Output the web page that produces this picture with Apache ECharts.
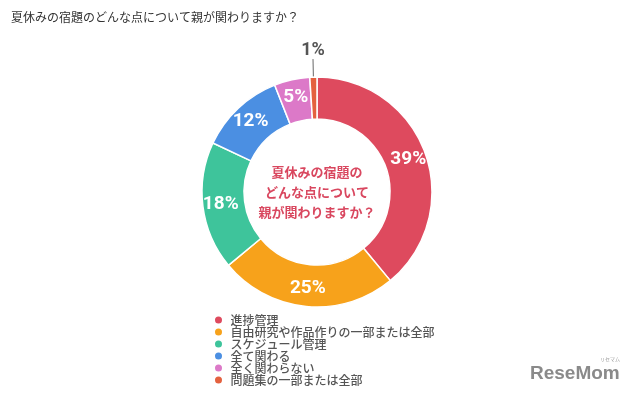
<!DOCTYPE html>
<html>
<head>
<meta charset="utf-8">
<script src="https://cdn.jsdelivr.net/npm/echarts@6/dist/echarts.min.js"></script>
<style>
  html, body { margin: 0; padding: 0; background: #fff; }
  #main { width: 640px; height: 395px; }
</style>
</head>
<body>
<div id="main"></div>
<script>
const categories = ['進捗管理', '自由研究や作品作りの一部または全部', 'スケジュール管理', '全て関わる', '全く関わらない', '問題集の一部または全部']
const values = [39, 25, 18, 12, 5, 1]
const colors = ['#de4a5e', '#f7a21b', '#3ec49b', '#4b8fe2', '#dc79c8', '#e4613f']

const cjk = "'Noto Sans CJK JP', sans-serif"
const narrow = "Roboto, sans-serif"

// 1% だけ外側にラベル
const pieData = categories.map((name, i) => {
    const item = { name, value: values[i], itemStyle: { color: colors[i] } }
    if (values[i] < 3) {
        item.label = { position: 'outside', color: '#555', fontSize: 18 }
        item.labelLine = { show: true, length: 12, length2: 0, lineStyle: { color: '#666', width: 1 } }
    }
    return item
})

const chart = echarts.init(document.getElementById('main'))
chart.setOption({
    animation: false,
    title: {
        text: '夏休みの宿題のどんな点について親が関わりますか？',
        left: 6,
        top: 6,
        textStyle: { fontFamily: cjk, fontSize: 12, fontWeight: 'normal', color: '#333' },
    },
    legend: {
        orient: 'vertical',
        left: 208,
        top: 309,
        height: 90,
        itemWidth: 14,
        itemHeight: 9,
        itemGap: 0,
        icon: 'circle',
        selectedMode: false,
        textStyle: { fontFamily: cjk, fontSize: 12, lineHeight: 11.6, color: '#555', fontWeight: 500 },
        data: categories,
    },
    graphic: [
        {
            type: 'text',
            x: 317,
            y: 192,
            style: {
                text: '夏休みの宿題の\nどんな点について\n親が関わりますか？',
                fontFamily: cjk,
                fontSize: 13,
                fontWeight: 'bold',
                lineHeight: 20,
                fill: '#d9475f',
                align: 'center',
                verticalAlign: 'middle',
            },
        },
        {
            type: 'text',
            x: 530,
            y: 364,
            style: {
                text: 'ReseMom',
                fontFamily: "'Liberation Sans', Arial, sans-serif",
                fontSize: 19,
                fontWeight: 'bold',
                fill: '#8a8a8a',
            },
        },
        {
            type: 'text',
            x: 600,
            y: 357,
            style: { text: 'リセマム', fontFamily: cjk, fontSize: 5, fill: '#999' },
        },
    ],
    series: [
        {
            type: 'pie',
            center: [317, 192],
            radius: [73, 115],
            startAngle: 90,
            clockwise: true,
            avoidLabelOverlap: false,
            itemStyle: { borderColor: '#fff', borderWidth: 1.5 },
            label: {
                show: true,
                position: 'inside',
                formatter: '{c}%',
                color: '#fff',
                fontFamily: narrow,
                fontWeight: 'bold',
                fontSize: 19,
            },
            labelLine: { show: false },
            labelLayout(params) {
                // 1% のラベルを線の真上に置く
                const pts = params.labelLinePoints
                if (!pts) return {}
                const end = pts[pts.length - 1]
                return { x: end[0], y: end[1] - 6, align: 'center', verticalAlign: 'bottom' }
            },
            emphasis: { disabled: true },
            data: pieData,
        },
    ],
})
</script>
</body>
</html>
